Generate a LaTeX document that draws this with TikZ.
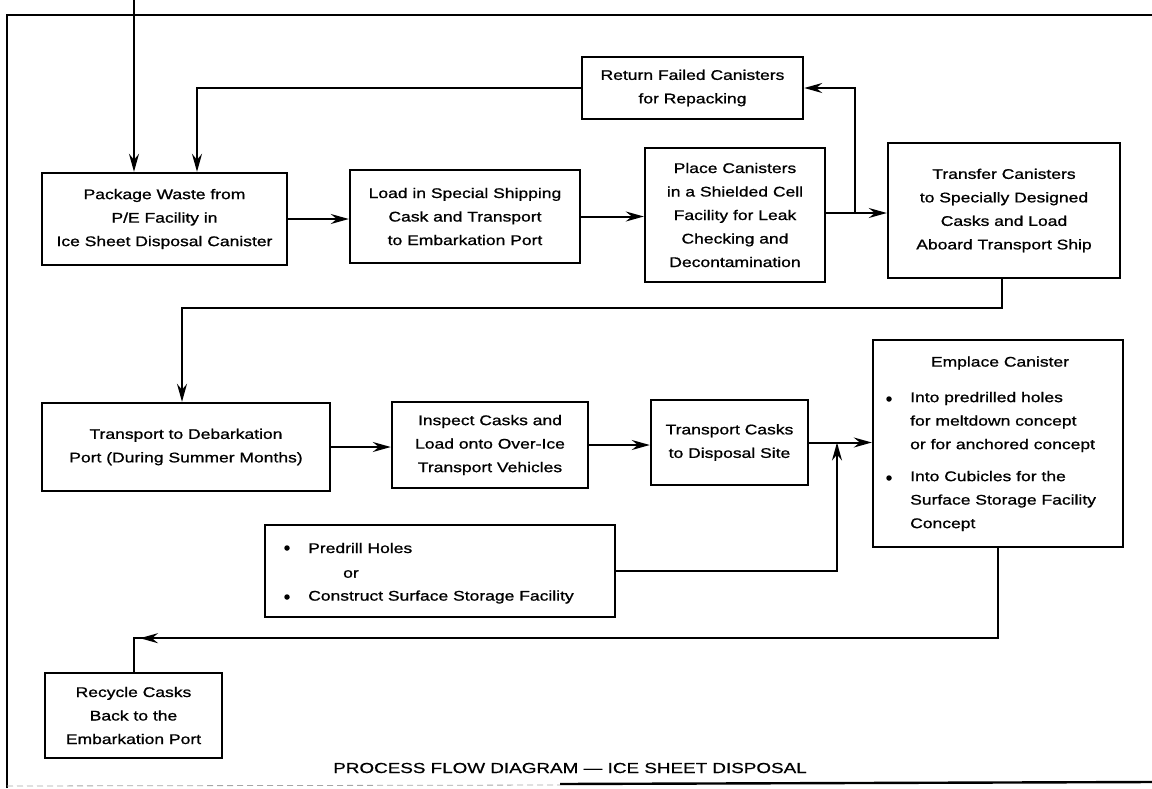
\documentclass[tikz,border=0pt]{standalone}
\usepackage{fontspec}
\setmainfont{Liberation Sans}[FakeStretch=1.25,FakeBold=1]
\newfontfamily\capfont{Liberation Sans}[FakeStretch=1.3,FakeBold=0.6]
\usetikzlibrary{arrows.meta,decorations.markings,calc}

\begin{document}
\begin{tikzpicture}[x=1pt,y=-1pt,
  body/.style={font=\fontsize{14}{23.5}\selectfont},
  box/.style={draw, line width=2.4pt, inner sep=0pt, align=center, body},
  txt/.style={inner sep=0pt, align=left, body},
  dot/.style={circle, fill, inner sep=0pt, minimum size=5.5pt},
  conn/.style={line width=2pt},
  tip/.style={-{Stealth[length=18pt,width=10pt,inset=6pt]}},
  arr/.style={conn, tip},
  frame/.style={line width=2.4pt}]
\useasboundingbox (0,0) rectangle (1152,788);

% outer frame
\draw[frame] (7,788) -- (7,15) -- (1152,15);
\draw[frame] (560,784) -- (1152,782);
\draw[line width=0.8pt, black!35, dash pattern=on 6pt off 4pt] (7,786) -- (560,785);

% first row
\node[box, minimum width=245pt, minimum height=92pt] (pkg) at (164.5,219)
  {Package Waste from\\P/E Facility in\\Ice Sheet Disposal Canister};
\node[box, minimum width=230pt, minimum height=93pt] (load) at (465,216.5)
  {Load in Special Shipping\\Cask and Transport\\to Embarkation Port};
\node[box, minimum width=180pt, minimum height=134pt] (place) at (735,215)
  {Place Canisters\\in a Shielded Cell\\Facility for Leak\\Checking and\\Decontamination};
\node[box, minimum width=232pt, minimum height=135pt] (xfer) at (1004,210.5)
  {Transfer Canisters\\to Specially Designed\\Casks and Load\\Aboard Transport Ship};
\node[box, minimum width=221pt, minimum height=62pt] (ret) at (692.5,88)
  {Return Failed Canisters\\for Repacking};

% second row
\node[box, minimum width=288pt, minimum height=88pt] (trans) at (186,447)
  {Transport to Debarkation\\Port (During Summer Months)};
\node[box, minimum width=196pt, minimum height=86pt] (insp) at (490,445)
  {Inspect Casks and\\Load onto Over-Ice\\Transport Vehicles};
\node[box, minimum width=157pt, minimum height=85pt] (tcask) at (729.5,442.5)
  {Transport Casks\\to Disposal Site};
\node[box, minimum width=250pt, minimum height=207pt] (empl) at (998,443.5) {};
\node[txt, anchor=center] (emph) at (1000,363) {Emplace Canister};
\node[dot] (empd1) at (889,399) {};
\node[txt, anchor=west] (empa) at (910,422)
  {Into predrilled holes\\for meltdown concept\\or for anchored concept};
\node[dot] (empd2) at (889,478) {};
\node[txt, anchor=west] (empb) at (910,501)
  {Into Cubicles for the\\Surface Storage Facility\\Concept};

% site preparation
\node[box, minimum width=350pt, minimum height=92pt] (pre) at (440,571) {};
\node[dot] (pred1) at (287,548) {};
\node[txt, anchor=west] (prea) at (308,548) {Predrill Holes};
\node[txt, anchor=west] (preor) at (343,574) {or};
\node[dot] (pred2) at (287,597) {};
\node[txt, anchor=west] (preb) at (308,597) {Construct Surface Storage Facility};

% return leg
\node[box, minimum width=177pt, minimum height=85pt] (rec) at (133.5,715.5)
  {Recycle Casks\\Back to the\\Embarkation Port};

\node[font=\capfont\fontsize{14.5}{16}\selectfont, inner sep=0pt] (cap) at (570,768)
  {PROCESS FLOW DIAGRAM — ICE SHEET DISPOSAL};

% connectors
\coordinate (feed) at (134,0);
\draw[arr] (feed) -- (feed |- pkg.north);
\draw[arr] (pkg.east) -- (pkg.east -| load.west);
\draw[arr] (load.east) -- (load.east -| place.west);
\coordinate (split) at (855,213);
\draw[conn] (place.east |- split) -- (split);
\draw[arr] (split) -- (split -| xfer.west);
\draw[arr] (split) |- (ret.east);
\draw[arr] (ret.west) -| ([xshift=32.5pt]pkg.north);
\draw[arr] ([xshift=-2pt]xfer.south) -- ++(0,29) -| ([xshift=-4pt]trans.north);
\draw[arr] (trans.east) -- (trans.east -| insp.west);
\draw[arr] (insp.east) -- (insp.east -| tcask.west);
\draw[arr] (tcask.east) -- (tcask.east -| empl.west);
\coordinate (merge) at (837,442.5);
\draw[arr] (pre.east) -| (merge);
\draw[conn, postaction={decorate},
  decoration={markings, mark=at position 948pt with {\arrow{Stealth[length=18pt,width=10pt,inset=6pt]}}}]
  (empl.south) -- ++(0,90) -| (rec.north);
\end{tikzpicture}
\end{document}
